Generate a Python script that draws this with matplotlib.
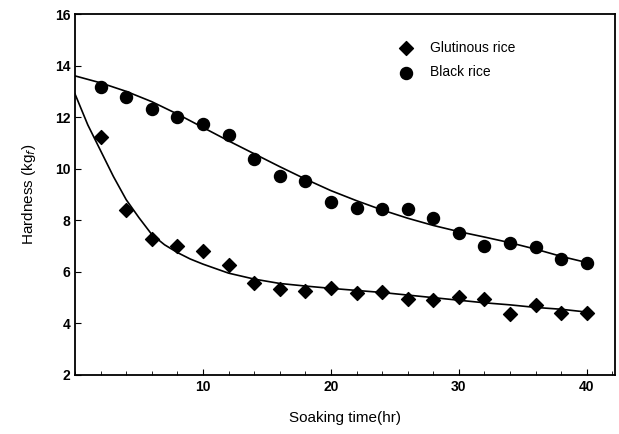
import matplotlib
matplotlib.use('Agg')
import matplotlib.pyplot as plt
from matplotlib.ticker import MultipleLocator

plt.rcParams['font.family'] = ['Liberation Sans', 'DejaVu Sans']

# tiempos de remojo (hr)
hours = [2, 4, 6, 8, 10, 12, 14, 16, 18, 20, 22, 24, 26, 28, 30, 32, 34, 36, 38, 40]

# dureza medida (kg_f)
glutinous = [11.24, 8.39, 7.26, 7.0, 6.8, 6.28, 5.56, 5.35, 5.26, 5.39,
             5.17, 5.23, 4.94, 4.9, 5.04, 4.94, 4.36, 4.7, 4.39, 4.42]
black = [13.16, 12.78, 12.31, 11.99, 11.72, 11.32, 10.38, 9.71, 9.51, 8.7,
         8.48, 8.44, 8.44, 8.07, 7.49, 7.0, 7.1, 6.98, 6.48, 6.36]

# curvas ajustadas
fit_x_g = [0, 1, 2, 3, 4, 5, 6, 7, 8, 9, 10, 12, 14, 16, 18, 20, 22, 24, 26, 28, 30, 32, 34, 36, 38, 40]
fit_g = [12.9, 11.7, 10.7, 9.7, 8.8, 8.1, 7.45, 7.05, 6.75, 6.5, 6.3, 5.95, 5.72, 5.55,
         5.45, 5.36, 5.28, 5.2, 5.1, 5.0, 4.9, 4.8, 4.72, 4.62, 4.55, 4.44]
fit_x_b = [0, 2, 4, 6, 8, 10, 12, 14, 16, 18, 20, 22, 24, 26, 28, 30, 32, 34, 36, 38, 40]
fit_b = [13.6, 13.33, 13.0, 12.6, 12.12, 11.6, 11.08, 10.58, 10.08, 9.6, 9.15, 8.76,
         8.4, 8.08, 7.8, 7.56, 7.35, 7.13, 6.88, 6.6, 6.36]

fig = plt.figure(figsize=(6.19, 4.34), dpi=100)
ax = fig.add_axes([75/619, 1-375/434, 540/619, 361/434])

ax.plot(fit_x_g, fit_g, color='black', lw=1.2)
ax.plot(fit_x_b, fit_b, color='black', lw=1.2)
ax.scatter(hours, glutinous, marker='D', s=50, color='black', label='Glutinous rice', zorder=3)
ax.scatter(hours, black, marker='o', s=75, color='black', label='Black rice', zorder=3)

ax.set_xlim(0, 42.2)
ax.set_ylim(2, 16)
ax.set_xticks([10, 20, 30, 40])
ax.xaxis.set_minor_locator(MultipleLocator(2))
ax.yaxis.set_major_locator(MultipleLocator(2))
ax.tick_params(which='both', direction='in', labelsize=10)
ax.tick_params(which='major', length=4)
ax.tick_params(which='minor', length=3)
for lab in ax.get_xticklabels() + ax.get_yticklabels():
    lab.set_fontweight('bold')
for sp in ax.spines.values():
    sp.set_linewidth(1.3)

ax.set_xlabel('Soaking time(hr)', fontsize=11, labelpad=12)
ax.set_ylabel('Hardness (kg$_f$)', fontsize=11, labelpad=12)

ax.legend(loc='upper left', bbox_to_anchor=(0.565, 0.96), frameon=False,
          fontsize=10, handletextpad=0.7, labelspacing=0.75, scatterpoints=1)

fig.savefig('out.png', dpi=100)
